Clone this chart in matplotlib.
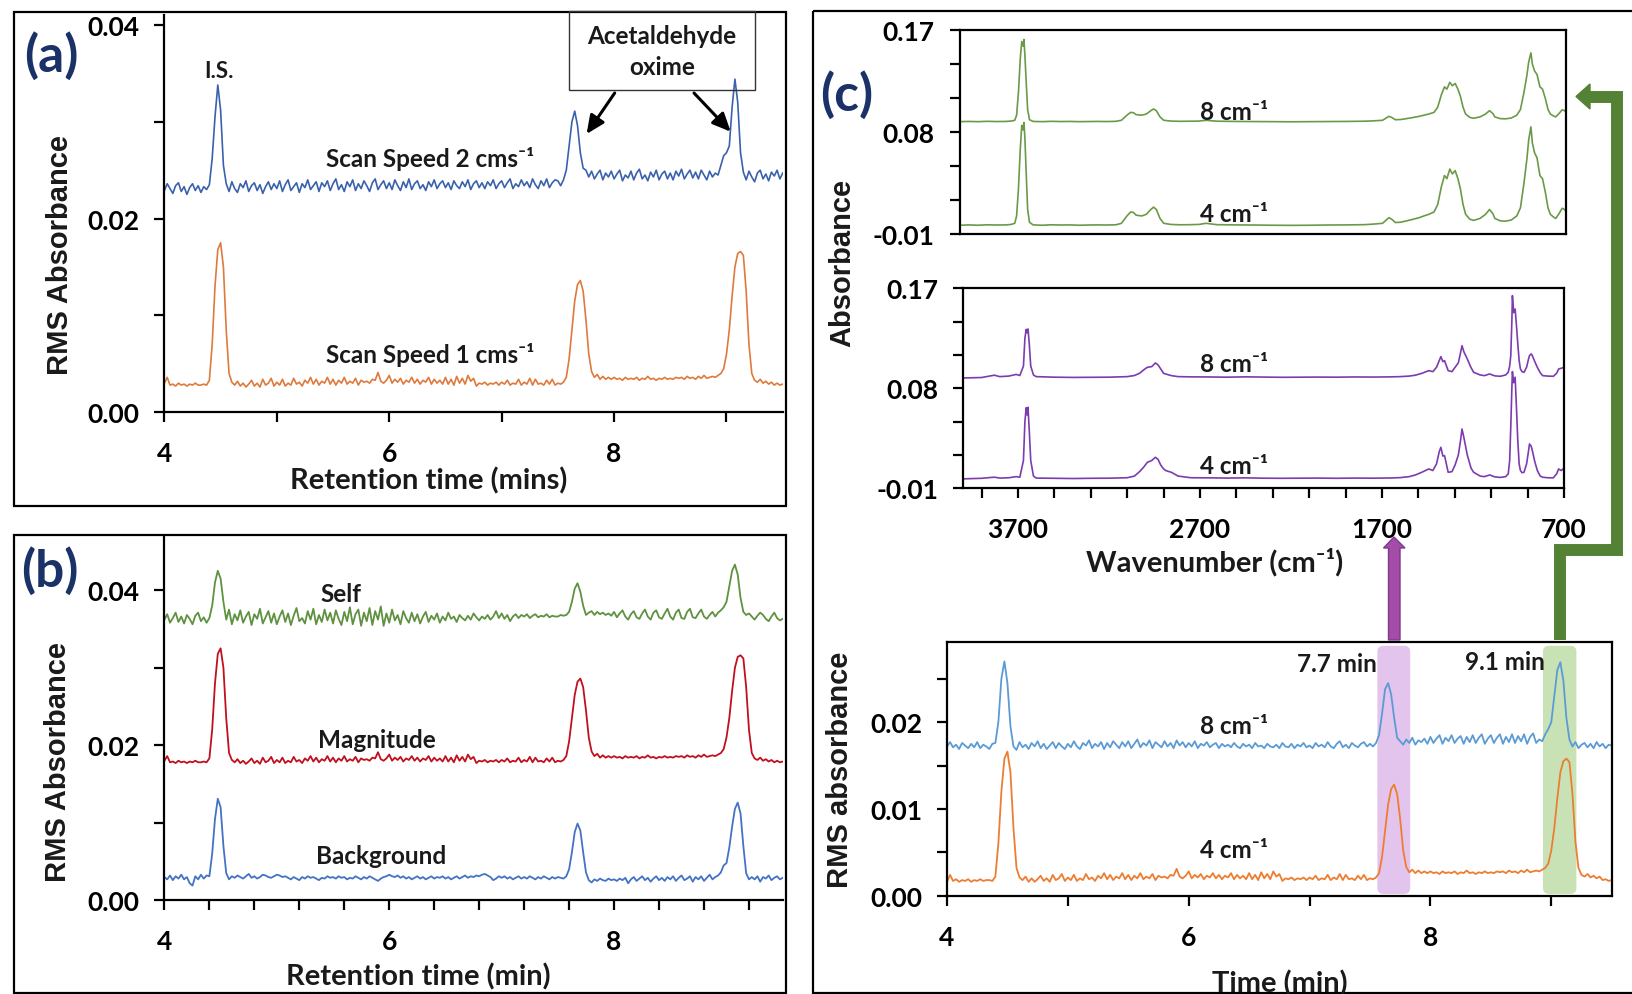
import numpy as np
import matplotlib

matplotlib.use("Agg")
import matplotlib.pyplot as plt
from matplotlib.patches import Rectangle, Polygon, FancyBboxPatch, FancyArrowPatch
from matplotlib.lines import Line2D
from matplotlib.transforms import Affine2D

W, H = 1632, 995

plt.rcParams["font.family"] = ["Lato", "DejaVu Sans"]
plt.rcParams["font.weight"] = "bold"
plt.rcParams["axes.unicode_minus"] = False

# retention time grid (min), one reading every 0.025 min
rt = np.linspace(4.0, 9.5, 221)

# (a) scan speed 2 cm/s
scan2_a = [
    0.0229, 0.0236, 0.0231, 0.0226, 0.0234, 0.0237, 0.0228, 0.0233, 0.0225, 0.0232, 0.0236, 0.0229, 0.0234, 0.0227, 0.0233, 0.0230, 0.0235, 0.0262, 0.0305, 0.0338,
    0.0312, 0.0255, 0.0236, 0.0228, 0.0238, 0.0231, 0.0227, 0.0236, 0.0232, 0.0239, 0.0228, 0.0234, 0.0237, 0.0229, 0.0235, 0.0226, 0.0233, 0.0238, 0.0230, 0.0236,
    0.0231, 0.0239, 0.0228, 0.0235, 0.0240, 0.0229, 0.0233, 0.0237, 0.0227, 0.0236, 0.0232, 0.0240, 0.0230, 0.0234, 0.0238, 0.0228, 0.0237, 0.0233, 0.0239, 0.0229,
    0.0236, 0.0241, 0.0230, 0.0235, 0.0228, 0.0238, 0.0233, 0.0240, 0.0229, 0.0236, 0.0231, 0.0239, 0.0234, 0.0228, 0.0237, 0.0241, 0.0230, 0.0235, 0.0239, 0.0231,
    0.0237, 0.0230, 0.0240, 0.0234, 0.0229, 0.0238, 0.0232, 0.0241, 0.0230, 0.0236, 0.0239, 0.0231, 0.0235, 0.0229, 0.0238, 0.0233, 0.0240, 0.0231, 0.0236, 0.0239,
    0.0232, 0.0237, 0.0230, 0.0239, 0.0234, 0.0231, 0.0238, 0.0233, 0.0240, 0.0230, 0.0236, 0.0239, 0.0232, 0.0237, 0.0231, 0.0238, 0.0234, 0.0240, 0.0231, 0.0236,
    0.0239, 0.0232, 0.0237, 0.0241, 0.0231, 0.0236, 0.0233, 0.0240, 0.0234, 0.0238, 0.0232, 0.0241, 0.0235, 0.0231, 0.0239, 0.0234, 0.0241, 0.0232, 0.0237, 0.0240,
    0.0239, 0.0234, 0.0240, 0.0250, 0.0275, 0.0300, 0.0311, 0.0296, 0.0268, 0.0252, 0.0250, 0.0243, 0.0249, 0.0241, 0.0246, 0.0250, 0.0240, 0.0247, 0.0243, 0.0249,
    0.0241, 0.0246, 0.0250, 0.0239, 0.0245, 0.0242, 0.0249, 0.0240, 0.0247, 0.0251, 0.0241, 0.0245, 0.0239, 0.0248, 0.0243, 0.0250, 0.0240, 0.0246, 0.0249, 0.0241,
    0.0247, 0.0240, 0.0249, 0.0244, 0.0251, 0.0241, 0.0246, 0.0250, 0.0242, 0.0248, 0.0241, 0.0250, 0.0245, 0.0240, 0.0249, 0.0243, 0.0247, 0.0245, 0.0255, 0.0265,
    0.0268, 0.0275, 0.0315, 0.0344, 0.0320, 0.0268, 0.0248, 0.0240, 0.0249, 0.0243, 0.0238, 0.0247, 0.0250, 0.0241, 0.0246, 0.0239, 0.0248, 0.0244, 0.0250, 0.0241,
    0.0247,
]

# (a) scan speed 1 cm/s
scan1_a = [
    0.0030, 0.0036, 0.0028, 0.0029, 0.0027, 0.0030, 0.0028, 0.0029, 0.0027, 0.0029, 0.0028, 0.0030, 0.0028, 0.0028, 0.0029, 0.0028, 0.0033, 0.0070, 0.0130, 0.0168,
    0.0175, 0.0150, 0.0085, 0.0040, 0.0031, 0.0028, 0.0032, 0.0027, 0.0030, 0.0026, 0.0029, 0.0033, 0.0027, 0.0030, 0.0026, 0.0034, 0.0028, 0.0030, 0.0035, 0.0027,
    0.0031, 0.0028, 0.0034, 0.0027, 0.0030, 0.0028, 0.0035, 0.0029, 0.0031, 0.0027, 0.0033, 0.0030, 0.0036, 0.0029, 0.0034, 0.0028, 0.0032, 0.0030, 0.0036, 0.0029,
    0.0034, 0.0028, 0.0033, 0.0030, 0.0036, 0.0029, 0.0032, 0.0030, 0.0035, 0.0028, 0.0033, 0.0031, 0.0032, 0.0030, 0.0034, 0.0033, 0.0041, 0.0032, 0.0030, 0.0033,
    0.0038, 0.0030, 0.0034, 0.0031, 0.0035, 0.0029, 0.0033, 0.0031, 0.0036, 0.0030, 0.0034, 0.0029, 0.0033, 0.0031, 0.0036, 0.0029, 0.0034, 0.0030, 0.0033, 0.0029,
    0.0036, 0.0029, 0.0034, 0.0028, 0.0037, 0.0030, 0.0035, 0.0029, 0.0038, 0.0032, 0.0035, 0.0027, 0.0030, 0.0029, 0.0031, 0.0028, 0.0030, 0.0029, 0.0031, 0.0028,
    0.0031, 0.0029, 0.0033, 0.0028, 0.0030, 0.0029, 0.0034, 0.0028, 0.0031, 0.0029, 0.0035, 0.0028, 0.0034, 0.0029, 0.0030, 0.0028, 0.0033, 0.0029, 0.0034, 0.0028,
    0.0030, 0.0029, 0.0031, 0.0036, 0.0055, 0.0085, 0.0115, 0.0132, 0.0136, 0.0125, 0.0095, 0.0060, 0.0042, 0.0036, 0.0039, 0.0034, 0.0037, 0.0034, 0.0036, 0.0034,
    0.0036, 0.0034, 0.0035, 0.0033, 0.0036, 0.0034, 0.0035, 0.0034, 0.0036, 0.0033, 0.0035, 0.0034, 0.0037, 0.0034, 0.0035, 0.0033, 0.0035, 0.0034, 0.0036, 0.0034,
    0.0035, 0.0034, 0.0036, 0.0035, 0.0036, 0.0034, 0.0037, 0.0035, 0.0036, 0.0034, 0.0037, 0.0035, 0.0038, 0.0035, 0.0036, 0.0037, 0.0036, 0.0038, 0.0040, 0.0045,
    0.0060, 0.0085, 0.0120, 0.0150, 0.0164, 0.0166, 0.0162, 0.0125, 0.0070, 0.0040, 0.0033, 0.0031, 0.0034, 0.0030, 0.0032, 0.0029, 0.0031, 0.0028, 0.0030, 0.0028,
    0.0029,
]

# (b) self / magnitude / background
self_b = [
    0.0362, 0.0369, 0.0358, 0.0364, 0.0371, 0.0359, 0.0366, 0.0357, 0.0368, 0.0363, 0.0356, 0.0367, 0.0371, 0.0360, 0.0365, 0.0358, 0.0364, 0.0380, 0.0410, 0.0425,
    0.0415, 0.0385, 0.0362, 0.0375, 0.0356, 0.0369, 0.0361, 0.0374, 0.0358, 0.0366, 0.0372, 0.0355, 0.0369, 0.0363, 0.0376, 0.0357, 0.0365, 0.0373, 0.0358, 0.0370,
    0.0356, 0.0366, 0.0374, 0.0359, 0.0370, 0.0355, 0.0367, 0.0377, 0.0360, 0.0364, 0.0357, 0.0373, 0.0362, 0.0376, 0.0356, 0.0368, 0.0359, 0.0375, 0.0361, 0.0371,
    0.0357, 0.0374, 0.0363, 0.0355, 0.0372, 0.0360, 0.0378, 0.0356, 0.0369, 0.0375, 0.0354, 0.0371, 0.0360, 0.0377, 0.0355, 0.0373, 0.0362, 0.0379, 0.0354, 0.0370,
    0.0358, 0.0375, 0.0361, 0.0368, 0.0356, 0.0373, 0.0364, 0.0358, 0.0371, 0.0360, 0.0369, 0.0357, 0.0366, 0.0372, 0.0359, 0.0367, 0.0362, 0.0370, 0.0358, 0.0366,
    0.0361, 0.0371, 0.0363, 0.0366, 0.0359, 0.0368, 0.0364, 0.0361, 0.0367, 0.0362, 0.0370, 0.0365, 0.0361, 0.0366, 0.0363, 0.0368, 0.0362, 0.0366, 0.0373, 0.0364,
    0.0370, 0.0363, 0.0368, 0.0360, 0.0366, 0.0369, 0.0364, 0.0368, 0.0366, 0.0369, 0.0364, 0.0367, 0.0369, 0.0365, 0.0367, 0.0366, 0.0369, 0.0365, 0.0367, 0.0366,
    0.0366, 0.0368, 0.0367, 0.0368, 0.0372, 0.0385, 0.0402, 0.0409, 0.0398, 0.0380, 0.0368, 0.0371, 0.0373, 0.0368, 0.0372, 0.0369, 0.0371, 0.0368, 0.0370, 0.0367,
    0.0372, 0.0365, 0.0370, 0.0374, 0.0366, 0.0362, 0.0369, 0.0373, 0.0365, 0.0363, 0.0370, 0.0375, 0.0366, 0.0362, 0.0371, 0.0374, 0.0365, 0.0363, 0.0370, 0.0376,
    0.0366, 0.0362, 0.0371, 0.0375, 0.0364, 0.0363, 0.0372, 0.0376, 0.0365, 0.0364, 0.0370, 0.0375, 0.0366, 0.0363, 0.0368, 0.0372, 0.0366, 0.0371, 0.0374, 0.0378,
    0.0385, 0.0405, 0.0425, 0.0433, 0.0420, 0.0390, 0.0372, 0.0368, 0.0370, 0.0366, 0.0362, 0.0367, 0.0371, 0.0368, 0.0363, 0.0360, 0.0366, 0.0371, 0.0364, 0.0361,
    0.0363,
]

magnitude_b = [
    0.0180, 0.0186, 0.0178, 0.0179, 0.0177, 0.0180, 0.0178, 0.0179, 0.0177, 0.0179, 0.0178, 0.0180, 0.0178, 0.0178, 0.0179, 0.0178, 0.0183, 0.0220, 0.0280, 0.0318,
    0.0325, 0.0300, 0.0235, 0.0190, 0.0181, 0.0178, 0.0182, 0.0177, 0.0180, 0.0176, 0.0179, 0.0183, 0.0177, 0.0180, 0.0176, 0.0184, 0.0178, 0.0180, 0.0185, 0.0177,
    0.0181, 0.0178, 0.0184, 0.0177, 0.0180, 0.0178, 0.0185, 0.0179, 0.0181, 0.0177, 0.0183, 0.0180, 0.0186, 0.0179, 0.0184, 0.0178, 0.0182, 0.0180, 0.0186, 0.0179,
    0.0184, 0.0178, 0.0183, 0.0180, 0.0186, 0.0179, 0.0182, 0.0180, 0.0185, 0.0178, 0.0183, 0.0181, 0.0182, 0.0180, 0.0184, 0.0183, 0.0191, 0.0182, 0.0180, 0.0183,
    0.0188, 0.0180, 0.0184, 0.0181, 0.0185, 0.0179, 0.0183, 0.0181, 0.0186, 0.0180, 0.0184, 0.0179, 0.0183, 0.0181, 0.0186, 0.0179, 0.0184, 0.0180, 0.0183, 0.0179,
    0.0186, 0.0179, 0.0184, 0.0178, 0.0187, 0.0180, 0.0185, 0.0179, 0.0188, 0.0182, 0.0185, 0.0177, 0.0180, 0.0179, 0.0181, 0.0178, 0.0180, 0.0179, 0.0181, 0.0178,
    0.0181, 0.0179, 0.0183, 0.0178, 0.0180, 0.0179, 0.0184, 0.0178, 0.0181, 0.0179, 0.0185, 0.0178, 0.0184, 0.0179, 0.0180, 0.0178, 0.0183, 0.0179, 0.0184, 0.0178,
    0.0180, 0.0179, 0.0181, 0.0186, 0.0205, 0.0235, 0.0265, 0.0282, 0.0286, 0.0275, 0.0245, 0.0210, 0.0192, 0.0186, 0.0189, 0.0184, 0.0187, 0.0184, 0.0186, 0.0184,
    0.0186, 0.0184, 0.0185, 0.0183, 0.0186, 0.0184, 0.0185, 0.0184, 0.0186, 0.0183, 0.0185, 0.0184, 0.0187, 0.0184, 0.0185, 0.0183, 0.0185, 0.0184, 0.0186, 0.0184,
    0.0185, 0.0184, 0.0186, 0.0185, 0.0186, 0.0184, 0.0187, 0.0185, 0.0186, 0.0184, 0.0187, 0.0185, 0.0188, 0.0185, 0.0186, 0.0187, 0.0186, 0.0188, 0.0190, 0.0195,
    0.0210, 0.0235, 0.0270, 0.0300, 0.0314, 0.0316, 0.0312, 0.0275, 0.0220, 0.0190, 0.0183, 0.0181, 0.0184, 0.0180, 0.0182, 0.0179, 0.0181, 0.0178, 0.0180, 0.0178,
    0.0179,
]

background_b = [
    0.0030, 0.0027, 0.0032, 0.0026, 0.0031, 0.0028, 0.0033, 0.0027, 0.0030, 0.0022, 0.0019, 0.0031, 0.0027, 0.0033, 0.0028, 0.0032, 0.0031, 0.0060, 0.0105, 0.0131,
    0.0120, 0.0070, 0.0035, 0.0027, 0.0031, 0.0029, 0.0032, 0.0030, 0.0028, 0.0031, 0.0034, 0.0029, 0.0031, 0.0028, 0.0030, 0.0033, 0.0032, 0.0030, 0.0029, 0.0031,
    0.0033, 0.0032, 0.0030, 0.0031, 0.0029, 0.0027, 0.0030, 0.0028, 0.0026, 0.0030, 0.0028, 0.0031, 0.0029, 0.0030, 0.0028, 0.0026, 0.0029, 0.0028, 0.0031, 0.0029,
    0.0030, 0.0028, 0.0031, 0.0029, 0.0030, 0.0027, 0.0029, 0.0028, 0.0031, 0.0029, 0.0027, 0.0030, 0.0028, 0.0031, 0.0029, 0.0027, 0.0025, 0.0028, 0.0030, 0.0031,
    0.0033, 0.0031, 0.0030, 0.0032, 0.0029, 0.0031, 0.0028, 0.0030, 0.0027, 0.0029, 0.0031, 0.0028, 0.0030, 0.0027, 0.0029, 0.0031, 0.0028, 0.0030, 0.0029, 0.0031,
    0.0028, 0.0030, 0.0027, 0.0029, 0.0031, 0.0028, 0.0030, 0.0032, 0.0029, 0.0031, 0.0030, 0.0032, 0.0031, 0.0033, 0.0034, 0.0032, 0.0030, 0.0026, 0.0028, 0.0031,
    0.0029, 0.0031, 0.0028, 0.0030, 0.0027, 0.0029, 0.0031, 0.0028, 0.0030, 0.0028, 0.0031, 0.0029, 0.0027, 0.0030, 0.0028, 0.0031, 0.0029, 0.0027, 0.0030, 0.0028,
    0.0030, 0.0029, 0.0028, 0.0031, 0.0040, 0.0062, 0.0088, 0.0099, 0.0090, 0.0062, 0.0036, 0.0026, 0.0023, 0.0027, 0.0025, 0.0028, 0.0026, 0.0025, 0.0028, 0.0026,
    0.0027, 0.0025, 0.0028, 0.0026, 0.0029, 0.0022, 0.0027, 0.0030, 0.0025, 0.0028, 0.0031, 0.0026, 0.0029, 0.0024, 0.0028, 0.0031, 0.0026, 0.0029, 0.0025, 0.0030,
    0.0027, 0.0031, 0.0025, 0.0029, 0.0032, 0.0026, 0.0028, 0.0031, 0.0024, 0.0030, 0.0027, 0.0031, 0.0025, 0.0029, 0.0033, 0.0027, 0.0030, 0.0032, 0.0036, 0.0045,
    0.0048, 0.0068, 0.0095, 0.0118, 0.0126, 0.0112, 0.0070, 0.0035, 0.0027, 0.0030, 0.0027, 0.0031, 0.0024, 0.0030, 0.0028, 0.0032, 0.0026, 0.0029, 0.0031, 0.0027,
    0.0029,
]

# (c) chromatograms at 8 and 4 cm-1 resolution
res8_c = [
    0.0172, 0.0177, 0.0171, 0.0174, 0.0169, 0.0176, 0.0173, 0.0170, 0.0175, 0.0171, 0.0177, 0.0170, 0.0174, 0.0172, 0.0169, 0.0175, 0.0176, 0.0200, 0.0250, 0.0270,
    0.0245, 0.0195, 0.0172, 0.0168, 0.0177, 0.0171, 0.0174, 0.0169, 0.0176, 0.0172, 0.0178, 0.0170, 0.0175, 0.0169, 0.0173, 0.0177, 0.0170, 0.0176, 0.0172, 0.0169,
    0.0175, 0.0171, 0.0178, 0.0172, 0.0169, 0.0176, 0.0173, 0.0179, 0.0170, 0.0175, 0.0172, 0.0177, 0.0169, 0.0176, 0.0171, 0.0178, 0.0174, 0.0170, 0.0177, 0.0172,
    0.0178, 0.0170, 0.0175, 0.0180, 0.0171, 0.0176, 0.0173, 0.0179, 0.0170, 0.0177, 0.0174, 0.0171, 0.0178, 0.0172, 0.0176, 0.0170, 0.0179, 0.0173, 0.0177, 0.0171,
    0.0176, 0.0172, 0.0178, 0.0170, 0.0175, 0.0173, 0.0177, 0.0171, 0.0174, 0.0176, 0.0170, 0.0175, 0.0172, 0.0174, 0.0171, 0.0176, 0.0172, 0.0170, 0.0175, 0.0172,
    0.0174, 0.0170, 0.0176, 0.0172, 0.0173, 0.0170, 0.0175, 0.0172, 0.0171, 0.0174, 0.0170, 0.0176, 0.0172, 0.0171, 0.0175, 0.0170, 0.0174, 0.0172, 0.0176, 0.0171,
    0.0173, 0.0170, 0.0176, 0.0172, 0.0174, 0.0171, 0.0177, 0.0172, 0.0170, 0.0175, 0.0178, 0.0171, 0.0174, 0.0170, 0.0176, 0.0173, 0.0171, 0.0175, 0.0177, 0.0172,
    0.0175, 0.0172, 0.0176, 0.0185, 0.0210, 0.0238, 0.0245, 0.0232, 0.0205, 0.0182, 0.0178, 0.0174, 0.0180, 0.0176, 0.0182, 0.0174, 0.0179, 0.0177, 0.0181, 0.0175,
    0.0183, 0.0176, 0.0181, 0.0185, 0.0175, 0.0182, 0.0178, 0.0185, 0.0176, 0.0181, 0.0184, 0.0175, 0.0183, 0.0177, 0.0185, 0.0176, 0.0182, 0.0186, 0.0175, 0.0181,
    0.0185, 0.0176, 0.0182, 0.0186, 0.0175, 0.0183, 0.0177, 0.0186, 0.0176, 0.0184, 0.0178, 0.0186, 0.0175, 0.0183, 0.0187, 0.0176, 0.0180, 0.0178, 0.0186, 0.0192,
    0.0200, 0.0230, 0.0260, 0.0269, 0.0248, 0.0205, 0.0180, 0.0172, 0.0177, 0.0170, 0.0174, 0.0176, 0.0171, 0.0175, 0.0170, 0.0177, 0.0172, 0.0175, 0.0170, 0.0174,
    0.0173,
]

res4_c = [
    0.0016, 0.0024, 0.0017, 0.0019, 0.0016, 0.0018, 0.0017, 0.0019, 0.0016, 0.0018, 0.0017, 0.0019, 0.0017, 0.0018, 0.0018, 0.0017, 0.0022, 0.0060, 0.0120, 0.0158,
    0.0166, 0.0142, 0.0078, 0.0032, 0.0021, 0.0018, 0.0022, 0.0016, 0.0020, 0.0016, 0.0019, 0.0023, 0.0017, 0.0020, 0.0016, 0.0024, 0.0018, 0.0020, 0.0025, 0.0017,
    0.0021, 0.0018, 0.0024, 0.0017, 0.0020, 0.0018, 0.0025, 0.0019, 0.0021, 0.0017, 0.0023, 0.0020, 0.0026, 0.0019, 0.0024, 0.0018, 0.0022, 0.0020, 0.0026, 0.0019,
    0.0024, 0.0018, 0.0023, 0.0020, 0.0026, 0.0019, 0.0022, 0.0020, 0.0025, 0.0018, 0.0023, 0.0021, 0.0022, 0.0020, 0.0024, 0.0023, 0.0031, 0.0022, 0.0020, 0.0023,
    0.0028, 0.0020, 0.0024, 0.0021, 0.0025, 0.0019, 0.0023, 0.0021, 0.0026, 0.0020, 0.0024, 0.0019, 0.0023, 0.0021, 0.0026, 0.0019, 0.0024, 0.0020, 0.0023, 0.0019,
    0.0026, 0.0019, 0.0024, 0.0018, 0.0027, 0.0020, 0.0025, 0.0019, 0.0028, 0.0022, 0.0025, 0.0017, 0.0020, 0.0019, 0.0021, 0.0018, 0.0020, 0.0019, 0.0021, 0.0018,
    0.0021, 0.0019, 0.0023, 0.0018, 0.0020, 0.0019, 0.0024, 0.0018, 0.0021, 0.0019, 0.0025, 0.0018, 0.0024, 0.0019, 0.0020, 0.0018, 0.0023, 0.0019, 0.0024, 0.0018,
    0.0020, 0.0019, 0.0021, 0.0026, 0.0045, 0.0075, 0.0105, 0.0123, 0.0128, 0.0117, 0.0088, 0.0052, 0.0033, 0.0027, 0.0030, 0.0026, 0.0029, 0.0026, 0.0028, 0.0026,
    0.0028, 0.0026, 0.0027, 0.0025, 0.0028, 0.0026, 0.0027, 0.0026, 0.0028, 0.0025, 0.0027, 0.0026, 0.0029, 0.0026, 0.0027, 0.0025, 0.0027, 0.0026, 0.0028, 0.0026,
    0.0027, 0.0026, 0.0028, 0.0027, 0.0028, 0.0026, 0.0029, 0.0027, 0.0028, 0.0026, 0.0029, 0.0027, 0.0030, 0.0027, 0.0028, 0.0029, 0.0028, 0.0030, 0.0032, 0.0037,
    0.0052, 0.0078, 0.0112, 0.0142, 0.0155, 0.0158, 0.0154, 0.0118, 0.0062, 0.0032, 0.0024, 0.0022, 0.0025, 0.0021, 0.0023, 0.0020, 0.0022, 0.0018, 0.0019, 0.0017,
    0.0018,
]

for trace in (scan2_a, scan1_a, self_b, magnitude_b, background_b, res8_c, res4_c):
    assert len(trace) == len(rt)

# spectrum of the 9.1 min peak (green)
green_wn = [
    4000, 3950, 3900, 3850, 3800, 3750, 3720, 3700, 3690, 3680,
    3670, 3662, 3655, 3650, 3645, 3638, 3630, 3620, 3600, 3550,
    3500, 3450, 3400, 3350, 3300, 3250, 3200, 3150, 3120, 3090,
    3070, 3055, 3040, 3010, 2985, 2960, 2945, 2930, 2910, 2890,
    2850, 2800, 2750, 2700, 2660, 2600, 2500, 2400, 2300, 2200,
    2100, 2000, 1900, 1800, 1750, 1700, 1680, 1665, 1650, 1630,
    1600, 1550, 1500, 1470, 1449, 1420, 1400, 1380, 1363, 1350,
    1334, 1320, 1305, 1290, 1277, 1262, 1248, 1225, 1204, 1170,
    1140, 1118, 1100, 1089, 1060, 1031, 1000, 970, 950, 931,
    915, 905, 893, 885, 873, 860, 844, 830, 815, 800,
    787, 772, 758, 740, 723, 710, 700,
]
green_8 = [
    0.0893, 0.0895, 0.0893, 0.0896, 0.0894, 0.0895, 0.0898, 0.0905, 0.0950, 0.1150,
    0.1450, 0.1600, 0.1560, 0.1618, 0.1480, 0.1250, 0.1000, 0.0910, 0.0895, 0.0893,
    0.0896, 0.0894, 0.0895, 0.0893, 0.0894, 0.0895, 0.0894, 0.0896, 0.0905, 0.0950,
    0.0975, 0.0972, 0.0955, 0.0950, 0.0960, 0.0990, 0.1005, 0.0990, 0.0935, 0.0905,
    0.0898, 0.0896, 0.0897, 0.0898, 0.0905, 0.0897, 0.0895, 0.0894, 0.0893, 0.0892,
    0.0893, 0.0894, 0.0895, 0.0897, 0.0900, 0.0905, 0.0925, 0.0940, 0.0930, 0.0910,
    0.0912, 0.0925, 0.0940, 0.0952, 0.0960, 0.0975, 0.1020, 0.1130, 0.1200, 0.1180,
    0.1240, 0.1210, 0.1230, 0.1180, 0.1120, 0.1020, 0.0960, 0.0930, 0.0923, 0.0935,
    0.0960, 0.0990, 0.0965, 0.0935, 0.0920, 0.0918, 0.0925, 0.0950, 0.1000, 0.1150,
    0.1300, 0.1420, 0.1500, 0.1400, 0.1340, 0.1310, 0.1200, 0.1180, 0.1100, 0.1000,
    0.0960, 0.0945, 0.0935, 0.0965, 0.0998, 0.0990, 0.0975,
]
green_4 = [
    -0.0021, -0.0018, -0.0021, -0.0017, -0.0019, -0.0018, -0.0014, -0.0004, 0.0061, 0.0300,
    0.0650, 0.0860, 0.0820, 0.0885, 0.0750, 0.0450, 0.0120, 0.0005, -0.0018, -0.0021,
    -0.0017, -0.0019, -0.0018, -0.0021, -0.0019, -0.0018, -0.0019, -0.0017, -0.0004, 0.0061,
    0.0096, 0.0092, 0.0068, 0.0061, 0.0075, 0.0118, 0.0139, 0.0118, 0.0039, -0.0004,
    -0.0014, -0.0017, -0.0016, -0.0014, -0.0004, -0.0016, -0.0018, -0.0019, -0.0021, -0.0022,
    -0.0021, -0.0019, -0.0018, -0.0016, -0.0011, -0.0004, 0.0025, 0.0046, 0.0032, 0.0003,
    0.0006, 0.0025, 0.0046, 0.0064, 0.0075, 0.0096, 0.0161, 0.0318, 0.0418, 0.0390,
    0.0475, 0.0432, 0.0461, 0.0390, 0.0304, 0.0161, 0.0075, 0.0032, 0.0022, 0.0039,
    0.0075, 0.0118, 0.0082, 0.0039, 0.0018, 0.0015, 0.0025, 0.0061, 0.0132, 0.0347,
    0.0561, 0.0733, 0.0847, 0.0704, 0.0618, 0.0575, 0.0418, 0.0390, 0.0275, 0.0132,
    0.0075, 0.0054, 0.0039, 0.0082, 0.0129, 0.0118, 0.0096,
]

# spectrum of the 7.7 min peak (purple)
purple_wn = [
    4000, 3900, 3830, 3800, 3750, 3710, 3690, 3670, 3662, 3655,
    3650, 3645, 3638, 3630, 3615, 3600, 3500, 3400, 3300, 3200,
    3100, 3060, 3032, 3010, 2989, 2965, 2945, 2930, 2916, 2900,
    2887, 2857, 2820, 2750, 2650, 2550, 2450, 2350, 2250, 2150,
    2050, 1950, 1850, 1750, 1650, 1600, 1550, 1516, 1480, 1443,
    1420, 1400, 1385, 1376, 1365, 1356, 1336, 1315, 1298, 1280,
    1268, 1260, 1250, 1231, 1210, 1196, 1160, 1137, 1108, 1080,
    1050, 1020, 1006, 998, 992, 986, 983, 976, 968, 960,
    954, 946, 939, 930, 919, 905, 895, 889, 880, 875,
    860, 846, 830, 817, 790, 758, 740, 729, 715, 700,
]
purple_8 = [
    0.0893, 0.0897, 0.0918, 0.0905, 0.0910, 0.0925, 0.0915, 0.1000, 0.1250, 0.1330,
    0.1300, 0.1334, 0.1200, 0.1000, 0.0920, 0.0905, 0.0900, 0.0898, 0.0899, 0.0900,
    0.0905, 0.0915, 0.0935, 0.0965, 0.0989, 0.0995, 0.1028, 0.1010, 0.0975, 0.0935,
    0.0928, 0.0914, 0.0905, 0.0903, 0.0902, 0.0900, 0.0903, 0.0901, 0.0899, 0.0900,
    0.0901, 0.0900, 0.0902, 0.0901, 0.0903, 0.0905, 0.0910, 0.0918, 0.0935, 0.0959,
    0.0950, 0.0989, 0.1050, 0.1085, 0.1040, 0.1049, 0.0959, 0.0950, 0.0989, 0.1030,
    0.1120, 0.1184, 0.1130, 0.1064, 0.0985, 0.0944, 0.0920, 0.0914, 0.0929, 0.0912,
    0.0908, 0.0920, 0.0944, 0.1000, 0.1094, 0.1400, 0.1634, 0.1480, 0.1514, 0.1350,
    0.1214, 0.1050, 0.0974, 0.0950, 0.0944, 0.0990, 0.1060, 0.1094, 0.1109, 0.1100,
    0.1040, 0.0989, 0.0940, 0.0914, 0.0910, 0.0908, 0.0935, 0.0974, 0.0980, 0.0989,
]
purple_4 = [
    -0.0015, -0.0010, 0.0000, -0.0008, -0.0005, 0.0005, 0.0000, 0.0150, 0.0500, 0.0625,
    0.0560, 0.0629, 0.0420, 0.0150, 0.0010, -0.0008, -0.0010, -0.0012, -0.0010, -0.0009,
    -0.0005, 0.0010, 0.0050, 0.0089, 0.0134, 0.0150, 0.0179, 0.0160, 0.0110, 0.0075,
    0.0059, 0.0044, 0.0010, -0.0005, -0.0006, -0.0008, -0.0006, -0.0009, -0.0010, -0.0009,
    -0.0008, -0.0010, -0.0008, -0.0009, -0.0007, -0.0004, 0.0005, 0.0020, 0.0045, 0.0074,
    0.0060, 0.0120, 0.0230, 0.0269, 0.0190, 0.0194, 0.0044, 0.0050, 0.0110, 0.0200,
    0.0330, 0.0434, 0.0360, 0.0200, 0.0080, 0.0044, 0.0010, 0.0005, 0.0020, 0.0003,
    -0.0002, 0.0005, 0.0030, 0.0150, 0.0450, 0.0800, 0.0950, 0.0850, 0.0900, 0.0600,
    0.0350, 0.0120, 0.0060, 0.0040, 0.0045, 0.0120, 0.0230, 0.0299, 0.0280, 0.0250,
    0.0140, 0.0060, 0.0010, 0.0000, -0.0005, -0.0006, 0.0030, 0.0074, 0.0060, 0.0080,
]

TEXT = "#1a1a1a"
NAVY = "#1B3268"
LBL = ["Liberation Sans", "DejaVu Sans"]

fig = plt.figure(figsize=(W / 100, H / 100), dpi=100)
# pixel coordinates, origin top-left
px = Affine2D().scale(1.0 / W, -1.0 / H).translate(0, 1) + fig.transFigure


def axes_px(x0, y0, x1, y1):
    return fig.add_axes([x0 / W, 1 - y1 / H, (x1 - x0) / W, (y1 - y0) / H])


def style_axes(ax, boxed=False):
    ax.spines["top"].set_visible(boxed)
    ax.spines["right"].set_visible(boxed)
    for sp in ax.spines.values():
        sp.set_linewidth(1.6)
    ax.tick_params(direction="out", length=7, width=1.6, labelsize=19, colors="black")
    ax.tick_params(axis="x", pad=14)
    ax.tick_params(axis="y", pad=11)
    ax.patch.set_alpha(0)


def put(x, y, s, size=18, **kw):
    kw.setdefault("color", TEXT)
    kw.setdefault("fontweight", "bold")
    fig.text(x, y, s, transform=px, ha="center", va="center", fontsize=size, **kw)


# outer frames
for x0, y0, x1, y1 in [(13.5, 12.5, 785.8, 506.9), (13.5, 536, 785.8, 993.5), (813, 12, 1645, 993.5)]:
    fig.add_artist(Rectangle((x0, y0), x1 - x0, y1 - y0, transform=px, fill=False, ec="black", lw=1.6))

# ---- (a)
ax_a = axes_px(164.4, 16.3, 782.7, 413.2)
ax_a.plot(rt, scan2_a, color="#3A62AC", lw=1.2)
ax_a.plot(rt, scan1_a, color="#DD7A3C", lw=1.2)
ax_a.set_xlim(4, 9.5)
ax_a.set_ylim(0, 0.041)
ax_a.set_xticks([4, 5, 6, 7, 8, 9])
ax_a.set_xticklabels(["4", "", "6", "", "8", ""])
ax_a.set_yticks([0, 0.01, 0.02, 0.03, 0.04])
ax_a.set_yticklabels(["0.00", "", "0.02", "", "0.04"])
style_axes(ax_a)

put(51, 56, "(a)", size=37, color=NAVY)
put(60, 255, "RMS Absorbance", size=21, rotation=90, family=LBL)
put(429, 481, "Retention time (mins)", size=21)
put(218.5, 71, "I.S.", size=16)
put(430, 159, "Scan Speed 2 cms⁻¹", size=17.5)
put(430, 355, "Scan Speed 1 cms⁻¹", size=17.5)
fig.add_artist(Rectangle((569, 12), 186, 79, transform=px, fill=False, ec="#333333", lw=1.0))
put(662, 52, "Acetaldehyde\noxime", size=17.5, linespacing=1.45)
for (xs, ys), (xe, ye) in [((614.7, 94), (586.6, 135)), ((694, 94), (730.7, 132.7))]:
    fig.add_artist(FancyArrowPatch((xs, ys), (xe, ye), transform=px,
                                   arrowstyle="-|>,head_length=11,head_width=5",
                                   color="black", lw=2.2, mutation_scale=1, shrinkA=0, shrinkB=0))

# ---- (b)
ax_b = axes_px(164.4, 536.9, 782.7, 901.3)
ax_b.plot(rt, self_b, color="#5E9140", lw=1.3)
ax_b.plot(rt, magnitude_b, color="#C0101E", lw=1.3)
ax_b.plot(rt, background_b, color="#4472C4", lw=1.3)
ax_b.set_xlim(4, 9.5)
ax_b.set_ylim(0, 0.047)
b_ticks = [4.0, 4.4, 4.8, 5.2, 5.6, 6.0, 6.4, 6.8, 7.2, 7.6, 8.0, 8.4, 8.8, 9.2]
ax_b.set_xticks(b_ticks)
ax_b.set_xticklabels(["4" if t == 4 else "6" if t == 6 else "8" if t == 8 else "" for t in b_ticks])
ax_b.set_yticks([0, 0.01, 0.02, 0.03, 0.04])
ax_b.set_yticklabels(["0.00", "", "0.02", "", "0.04"])
style_axes(ax_b)

put(50, 571, "(b)", size=37, color=NAVY)
put(58, 762, "RMS Absorbance", size=21, rotation=90, family=LBL)
put(418, 977, "Retention time (min)", size=21)
put(341, 594, "Self", size=17.5)
put(377, 740, "Magnitude", size=17.5)
put(381, 857, "Background", size=17.5)

# ---- (c) spectra
spec_ticks = [-0.01, 0.02, 0.05, 0.08, 0.11, 0.14, 0.17]
spec_labels = ["-0.01", "", "", "0.08", "", "", "0.17"]

ax_s1 = axes_px(959.6, 31.2, 1566.4, 235.2)
ax_s1.plot(green_wn, green_8, color="#6A9A48", lw=1.2)
ax_s1.plot(green_wn, green_4, color="#6A9A48", lw=1.2)
ax_s1.set_xlim(4000, 700)
ax_s1.set_ylim(-0.01, 0.17)
ax_s1.set_yticks(spec_ticks)
ax_s1.set_yticklabels(spec_labels)
style_axes(ax_s1, boxed=True)
ax_s1.set_xticks([])

ax_s2 = axes_px(963.4, 289.3, 1563.9, 489.3)
ax_s2.plot(purple_wn, purple_8, color="#7B3CB0", lw=1.2)
ax_s2.plot(purple_wn, purple_4, color="#7B3CB0", lw=1.2)
ax_s2.set_xlim(4000, 700)
ax_s2.set_ylim(-0.01, 0.17)
ax_s2.set_yticks(spec_ticks)
ax_s2.set_yticklabels(spec_labels)
wn_ticks = list(range(3900, 699, -200))
ax_s2.set_xticks(wn_ticks)
ax_s2.set_xticklabels([str(t) if t in (3700, 2700, 1700, 700) else "" for t in wn_ticks])
style_axes(ax_s2, boxed=True)

# ---- (c) chromatogram
ax_c = axes_px(947, 643.3, 1611.7, 896.7)
ax_c.set_xlim(4, 9.5)
ax_c.set_ylim(0, 0.0292)
asp = (0.0292 / 253.4) / (5.5 / 664.7)
for x0, x1, fc in [(7.561, 7.833, "#E3C4EC"), (8.931, 9.208, "#C8E2B6")]:
    ax_c.add_patch(FancyBboxPatch((x0, 0.0002), x1 - x0, 0.0286,
                                  boxstyle="round,pad=0,rounding_size=0.05",
                                  mutation_aspect=asp, fc=fc, ec="none", zorder=0))
ax_c.plot(rt, res8_c, color="#5B9BD5", lw=1.3, zorder=2)
ax_c.plot(rt, res4_c, color="#ED7D31", lw=1.3, zorder=2)
ax_c.set_xticks([4, 5, 6, 7, 8, 9])
ax_c.set_xticklabels(["4", "", "6", "", "8", ""])
ax_c.set_yticks([0, 0.005, 0.01, 0.015, 0.02, 0.025])
ax_c.set_yticklabels(["0.00", "", "0.01", "", "0.02", ""])
style_axes(ax_c, boxed=True)

put(847, 95, "(c)", size=37, color=NAVY)
put(842, 263, "Absorbance", size=21, rotation=90, family=LBL)
put(840, 770, "RMS absorbance", size=21, rotation=90, family=LBL)
put(1215, 562, "Wavenumber (cm⁻¹)", size=21)
put(1280, 984, "Time (min)", size=21)
for y in (113, 364, 727):
    put(1234, y, "8 cm⁻¹", size=17.5)
for y in (215, 467, 851):
    put(1234, y, "4 cm⁻¹", size=17.5)
put(1337, 664, "7.7 min", size=17.5)
put(1505, 663, "9.1 min", size=17.5)

# purple arrow (7.7 min peak -> lower spectrum)
fig.add_artist(Polygon([(1388.5, 641), (1388.5, 549), (1383.5, 549), (1394, 538),
                        (1405, 549), (1400, 549), (1400, 641)],
                       closed=True, transform=px, fc="#A34DA8", ec="#7D3A93", lw=1.0))
# green connector (9.1 min peak -> upper spectrum)
fig.add_artist(Line2D([1560, 1560, 1616.5, 1616.5, 1588], [641, 550.5, 550.5, 97.5, 97.5],
                      transform=px, color="#548235", lw=8.6, solid_joinstyle="miter",
                      solid_capstyle="butt"))
fig.add_artist(Polygon([(1576, 97.5), (1590, 85), (1590, 110)], closed=True,
                       transform=px, fc="#548235", ec="#548235", lw=1.0))

fig.savefig("out.png", dpi=100)
